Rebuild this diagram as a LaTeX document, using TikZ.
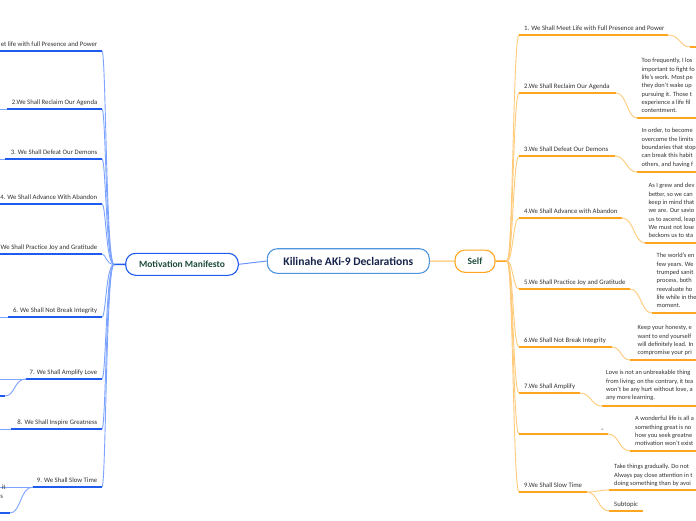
\documentclass[tikz,border=0pt]{standalone}
\usepackage{fontspec}
\setmainfont{Carlito}
\definecolor{bdark}{HTML}{1F5BEF}
\definecolor{blight}{HTML}{7CA3FF}
\definecolor{odark}{HTML}{FFA51F}
\definecolor{olight}{HTML}{FFCB7A}
\definecolor{cblue}{HTML}{4F96DE}
\definecolor{navy}{HTML}{16244A}
\definecolor{dgreen}{HTML}{1D4B3B}
\definecolor{txtc}{HTML}{333333}
\tikzset{
  lbl/.style={font=\fontsize{6.75}{8.3}\selectfont, text=txtc, inner sep=0pt},
  note/.style={lbl, font=\fontsize{6.4}{8.3}\selectfont, align=left, anchor=north west},
  lul/.style={draw=bdark, line width=1.5pt},
  lcv/.style={draw=blight, line width=0.9pt},
  rul/.style={draw=odark, line width=1.5pt},
  rcv/.style={draw=olight, line width=0.9pt},
  topic/.style={draw, rounded corners=10pt, fill=white, line width=1.1pt, inner sep=0pt,
    font=\bfseries\fontsize{9.5}{11}\selectfont, text=dgreen},
}
\begin{document}
\begin{tikzpicture}[x=1pt,y=-1pt]
\useasboundingbox (0,0) rectangle (696,520);
\fill[white] (0,0) rectangle (696,520);
\begin{scope}
\clip (0,0) rectangle (696,520);

% main topics
\node[topic, draw=cblue, minimum width=162pt, minimum height=24.6pt,
  font=\bfseries\fontsize{11.6}{13}\selectfont, text=navy] (root) at (348.3,261) {Kilinahe AKi-9 Declarations};
\node[topic, draw=bdark, minimum width=112.6pt, minimum height=22pt] (mm) at (182,264.3) {Motivation Manifesto};
\node[topic, draw=odark, minimum width=40pt, minimum height=22.3pt] (self) at (475,261.2) {Self};

\draw[draw=blight!80!bdark, line width=1pt] (mm.east) -- (root.west);
\draw[draw=odark!80, line width=1pt] (root.east) -- (self.west);

% hubs
\coordinate (lhub) at (114,264.5);
\coordinate (rhub) at (507,261);
\draw[lul] (mm.west) -- (lhub);
\draw[rul] (self.east) -- (rhub);

% left branches
\foreach \n/\y/\xs/\t in {
  1/51/0/{et life with full Presence and Power},
  2/109/7/{2.We Shall Reclaim Our Agenda},
  3/159/5/{3. We Shall Defeat Our Demons},
  4/204/0/{4. We Shall Advance With Abandon},
  5/254/0/{We Shall Practice Joy and Gratitude},
  6/317/8/{6. We Shall Not Break Integrity},
  7/379/26/{7. We Shall Amplify Love},
  8/429/11/{8. We Shall Inspire Greatness},
  9/487/33/{9. We Shall Slow Time}} {
  \coordinate (lb\n e) at (102,\y);
  \coordinate (lb\n s) at (\xs,\y);
  \coordinate (lb\n o) at (0,\y);
  \draw[lcv] (lhub) .. controls (106,264.5) and (106,\y) .. (lb\n e);
  \draw[lcv] (lb\n o) -- (lb\n s);
  \draw[lul] (lb\n s) -- (lb\n e);
  \node[lbl, anchor=base east] (ll\n) at (97.5,\y-4.7) {\t};
}
% left children
\coordinate (lc7e) at (5,396);
\coordinate (lc7s) at (0,396);
\draw[lcv] (lb7s) .. controls (14,379) and (15,396) .. (lc7e);
\draw[lul] (lc7s) -- (lc7e);
\coordinate (lc9e) at (10,513);
\coordinate (lc9s) at (0,513);
\draw[lcv] (lb9s) .. controls (20,487) and (21,513) .. (lc9e);
\draw[lul] (lc9s) -- (lc9e);
\node[lbl, anchor=base east] (lc9a) at (5.8,489.5) {it};
\node[lbl, anchor=base west] (lc9b) at (0.2,498.5) {s};

% right branches
\foreach \n/\y/\xe/\t in {
  1/35/668/{1. We Shall Meet Life with Full Presence and Power},
  2/93/616/{2.We Shall Reclaim Our Agenda},
  3/156/615/{3.We Shall Defeat Our Demons},
  4/218/622/{4.We Shall Advance with Abandon},
  5/289/630/{5.We Shall Practice Joy and Gratitude},
  6/347/612/{6.We Shall Not Break Integrity},
  7/393/580/{7.We Shall Amplify},
  8/434/608/{},
  9/492/587/{9.We Shall Slow Time}} {
  \coordinate (rb\n s) at (519,\y);
  \coordinate (rb\n e) at (\xe,\y);
  \draw[rcv] (rhub) .. controls (513,261) and (513,\y) .. (rb\n s);
  \draw[rul] (rb\n s) -- (rb\n e);
  \node[lbl, anchor=base west] (rl\n) at (524,\y-4.5) {\t};
}
\node[lbl, text=black] (dash8) at (602.5,430) {-};

% right children: connectors and underlines
\foreach \n/\ys/\xs/\xe in {1/47/690/696, 2/118/637/696, 3/172/637/696, 4/243/645/696,
  5/313/652/696, 6/360/630/696, 7/406/602/696, 8/451/630/696} {
  \coordinate (rc\n s) at (\xs,\ys);
  \coordinate (rc\n e) at (\xe,\ys);
}
\draw[rcv] (rb1e) .. controls (680,35) and (680,47) .. (rc1s);
\draw[rcv] (rb2e) .. controls (627,93) and (627,118) .. (rc2s);
\draw[rcv] (rb3e) .. controls (626,156) and (626,172) .. (rc3s);
\draw[rcv] (rb4e) .. controls (634,218) and (634,243) .. (rc4s);
\draw[rcv] (rb5e) .. controls (641,289) and (641,313) .. (rc5s);
\draw[rcv] (rb6e) .. controls (621,347) and (621,360) .. (rc6s);
\draw[rcv] (rb7e) .. controls (591,393) and (591,406) .. (rc7s);
\draw[rcv] (rb8e) .. controls (619,434) and (619,451) .. (rc8s);
\foreach \n in {1,...,8} { \draw[rul] (rc\n s) -- (rc\n e); }

\coordinate (rc9as) at (609,490);
\coordinate (rc9ae) at (696,490);
\coordinate (rc9bs) at (609,511);
\coordinate (rc9be) at (643,511);
\draw[rcv] (rb9e) .. controls (598,492) and (598,490) .. (rc9as);
\draw[rcv] (rb9e) .. controls (598,492) and (598,511) .. (rc9bs);
\draw[rul] (rc9as) -- (rc9ae);
\draw[rul] (rc9bs) -- (rc9be);

% right notes
\node[note] (n2) at (641.5,58.2) {Too frequently, I los\\important to fight fo\\life's work. Most pe\\they don't wake up\\pursuing it. Those t\\experience a life fil\\contentment.};
\node[note] (n3) at (641.5,128.2) {In order, to become\\overcome the limits\\boundaries that stop\\can break this habit\\others, and having f};
\node[note] (n4) at (648.5,183.2) {As I grew and dev\\better, so we can\\keep in mind that\\we are. Our savio\\us to ascend, leap\\We must not lose\\beckons us to sta};
\node[note] (n5) at (656.5,253.2) {The world's en\\few years. We\\trumped sanit\\process, both\\reevaluate ho\\life while in the\\moment.};
\node[note] (n6) at (637.5,325.2) {Keep your honesty, e\\want to end yourself\\will definitely lead. In\\compromise your pri};
\node[note] (n7) at (606,370.2) {Love is not an unbreakable thing\\from living; on the contrary, it tea\\won't be any hurt without love, a\\any more learning.};
\node[note] (n8) at (635,416.2) {A wonderful life is all a\\something great is no\\how you seek greatne\\motivation won't exist};
\node[note] (n9a) at (614,464.2) {Take things gradually. Do not\\Always pay close attention in t\\doing something than by avoi};
\node[lbl, anchor=base west] (n9b) at (614,506.5) {Subtopic};
\end{scope}
\end{tikzpicture}
\end{document}
